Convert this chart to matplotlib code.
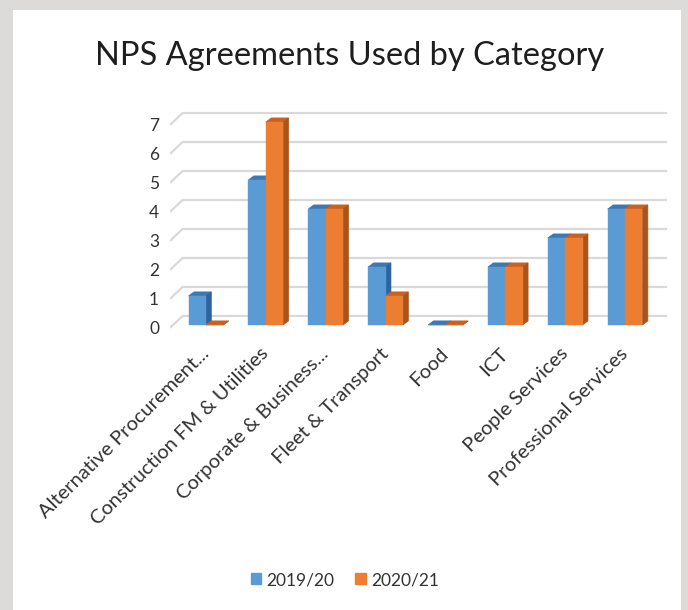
import matplotlib
matplotlib.use('Agg')
import matplotlib.pyplot as plt
from matplotlib.patches import Polygon, Rectangle
from matplotlib.transforms import ScaledTranslation

plt.rcParams['font.family'] = ['Lato', 'DejaVu Sans']

categories = ['Alternative Procurement...', 'Construction FM & Utilities',
              'Corporate & Business...', 'Fleet & Transport', 'Food', 'ICT',
              'People Services', 'Professional Services']
y2019 = [1, 5, 4, 2, 0, 2, 3, 4]
y2020 = [0, 7, 4, 1, 0, 2, 3, 4]
series = ['2019/20', '2020/21']
yticks = [0, 1, 2, 3, 4, 5, 6, 7]

W, H = 688, 610
fig = plt.figure(figsize=(W / 100, H / 100), dpi=100)
fig.patch.set_facecolor('#dddada')
# white chart panel
fig.patches.append(Rectangle((13 / W, 0), (681 - 13) / W, (H - 10) / H,
                             transform=fig.transFigure, facecolor='white',
                             edgecolor='none', zorder=-1))

# axes placed in pixels
x_left, x_right = 170, 667
y_top, y_bot = 104.6, 338
ax = fig.add_axes([x_left / W, 1 - y_bot / H, (x_right - x_left) / W, (y_bot - y_top) / H])
ax.set_zorder(1)
ax.set_xlim(-0.6, 7.7)
ax.set_ylim(-0.45, 7.6)
ax.set_facecolor('none')
for s in ax.spines.values():
    s.set_visible(False)

# depth offsets (data units)
dxw, dyw = 0.21, 0.31   # back wall
dxb, dyb = 0.09, 0.14   # bar depth

# gridlines on the back wall with slanted side-wall part
for v in yticks:
    ax.plot([-0.6, -0.6 + dxw, 7.7], [v - 0.1, v + dyw, v + dyw],
            color='#d9d9d9', lw=1.6, solid_capstyle='butt', zorder=1)

colors = [('#5b9bd5', '#3e78b2', '#2d64a0'), ('#ed7d31', '#c8621f', '#a9541b')]
bw = 0.29
for i in range(len(categories)):
    for j, vals in enumerate([y2019, y2020]):
        h = vals[i]
        x0 = i - bw + j * bw
        front, top, side = colors[j]
        z = 2 + i * 2 + j * 0.5
        ax.add_patch(Polygon([(x0, h), (x0 + dxb, h + dyb), (x0 + bw + dxb, h + dyb), (x0 + bw, h)],
                             closed=True, facecolor=top, edgecolor=top, lw=0.5, zorder=z))
        ax.add_patch(Polygon([(x0 + bw, 0), (x0 + bw + dxb, dyb), (x0 + bw + dxb, h + dyb), (x0 + bw, h)],
                             closed=True, facecolor=side, edgecolor=side, lw=0.5, zorder=z))
        ax.bar(x0, h, width=bw, align='edge', color=front, edgecolor=front, lw=0.3, zorder=z + 0.2)

ax.set_yticks([])
for v in yticks:
    ax.text(-0.6, v - 0.15, str(v), transform=ax.transData + ScaledTranslation(-11 / 100, 0, fig.dpi_scale_trans),
            ha='right', va='center', fontsize=12.5, color='#333333')

ax.set_xticks(range(len(categories)))
ax.set_xticklabels(categories, rotation=45, ha='right', va='top', rotation_mode='anchor',
                   fontsize=14.5, color='#333333')
ax.tick_params(axis='x', length=0, pad=0)
for lab in ax.get_xticklabels():
    lab.set_transform(lab.get_transform() + ScaledTranslation(-6 / 100, -7 / 100, fig.dpi_scale_trans))

fig.text(350 / W, 1 - 56 / H, 'NPS Agreements Used by Category', ha='center', va='center',
         fontsize=23.5, color='#1e1e1e')

handles = [Rectangle((0, 0), 1, 1, color=colors[k][0]) for k in range(2)]
fig.legend(handles, series, loc='center', bbox_to_anchor=(345 / W, 1 - 580 / H), ncol=2,
           frameon=False, fontsize=12.5, handlelength=0.6, handleheight=0.6,
           handletextpad=0.3, columnspacing=1.2, labelcolor='#333333')

fig.savefig('out.png', dpi=100, facecolor=fig.get_facecolor())
